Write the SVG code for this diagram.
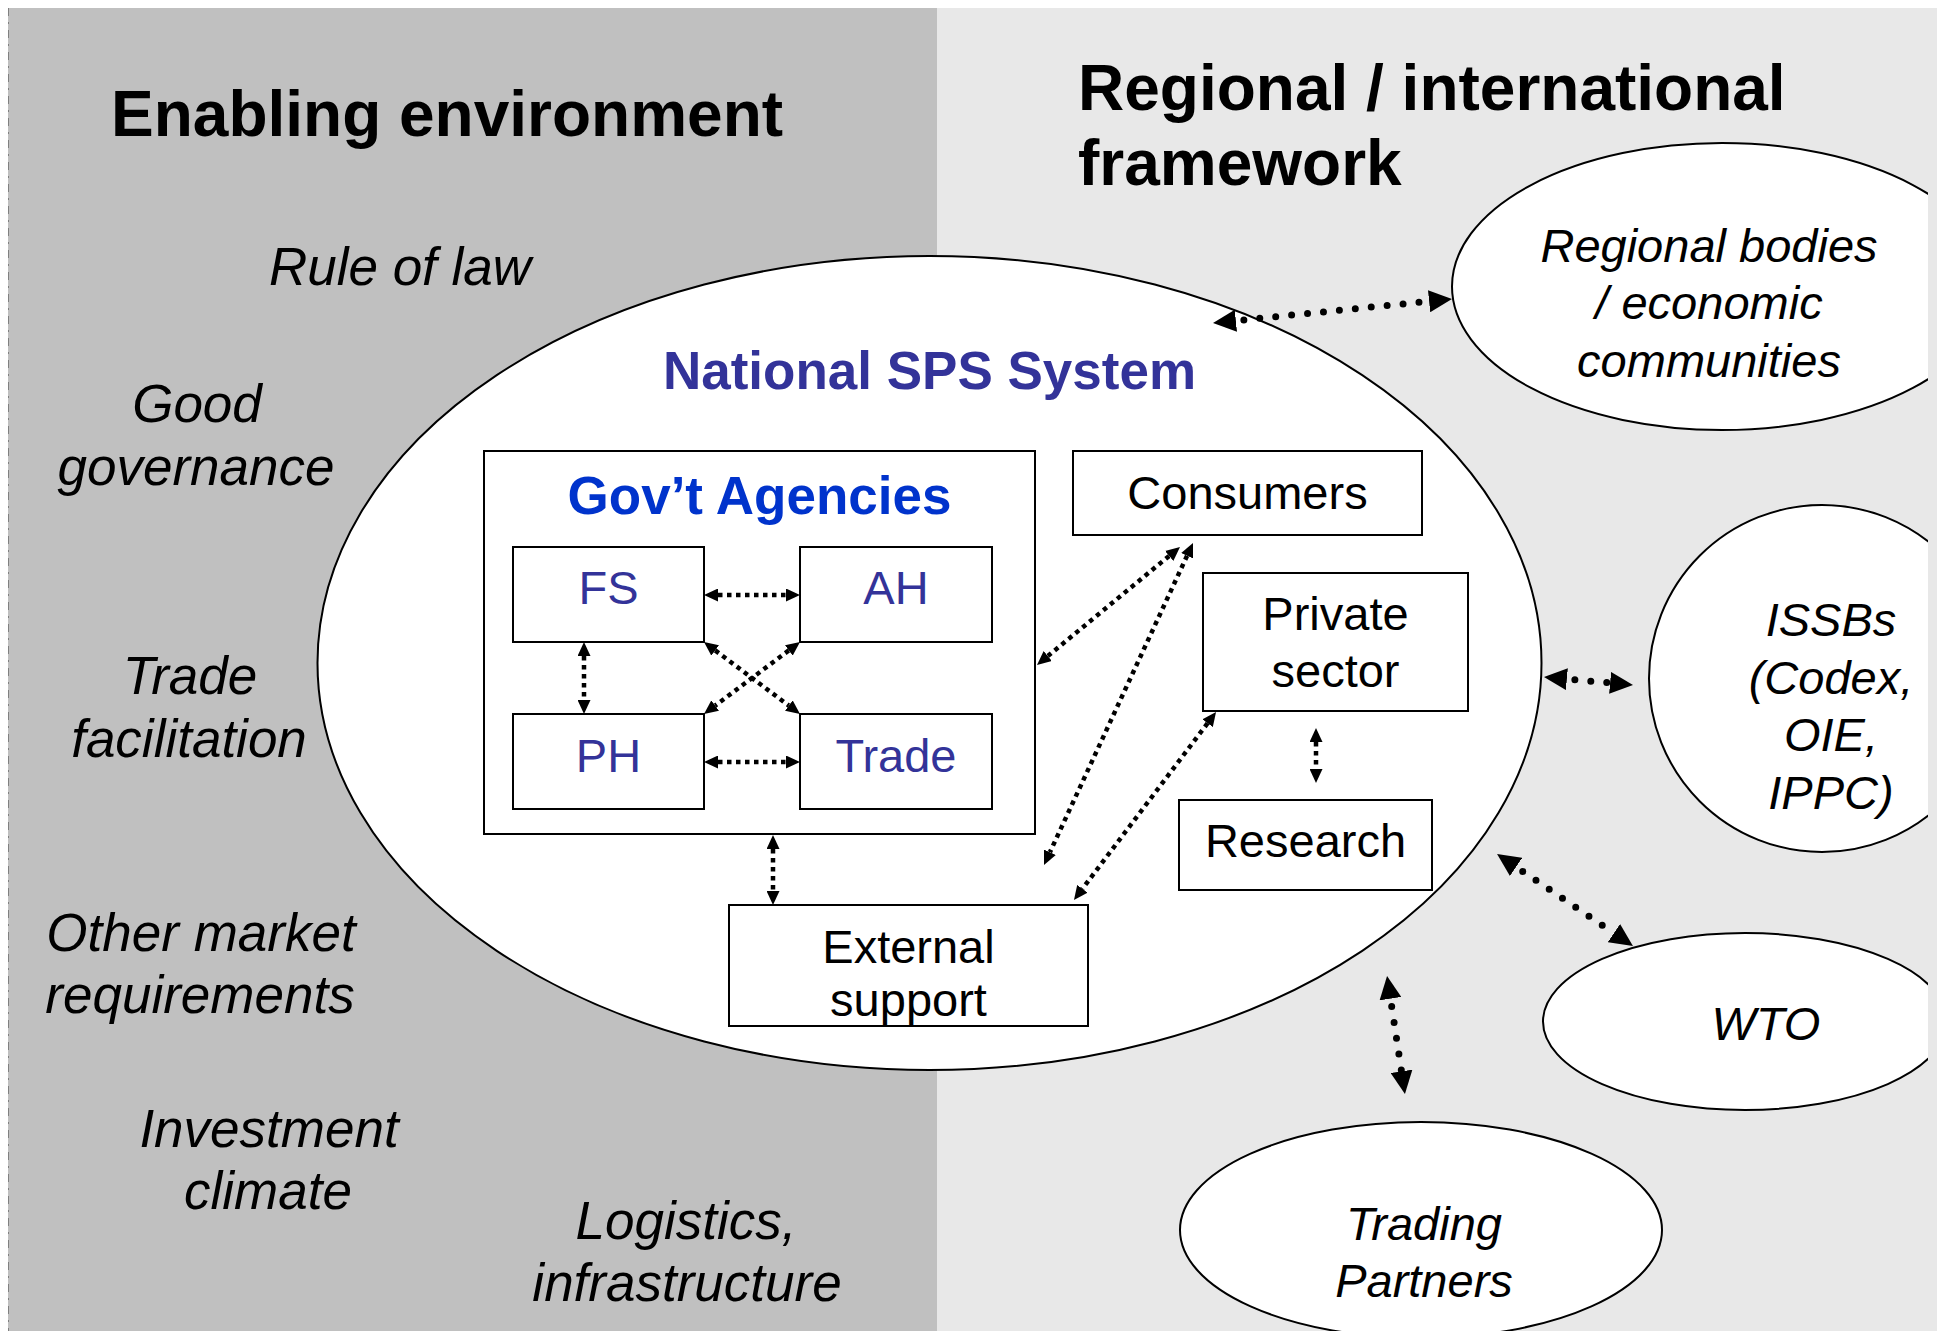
<svg xmlns="http://www.w3.org/2000/svg" width="1937" height="1331" viewBox="0 0 1937 1331">
<defs>
<style>
text{font-family:"Liberation Sans",Arial,Helvetica,sans-serif}
.title{font-size:64px;font-weight:bold;fill:#000}
.env{font-size:53px;font-style:italic;fill:#000;text-anchor:middle}
.ext{font-size:47px;font-style:italic;fill:#000;text-anchor:middle}
.lbl{font-size:47px;fill:#000;text-anchor:middle}
.ag{font-size:47px;fill:#333399;text-anchor:middle}
.hd{font-size:53px;font-weight:bold;text-anchor:middle}
.box{fill:#fff;stroke:#000;stroke-width:2}
.ell{fill:#fff;stroke:#000;stroke-width:2}
.ci{fill:none;stroke:#000;stroke-width:4.5;stroke-dasharray:4.5 4.5;marker-start:url(#ai);marker-end:url(#ai)}
.co{fill:none;stroke:#000;stroke-width:7;stroke-linecap:round;stroke-dasharray:0 16;stroke-dashoffset:8;marker-start:url(#ao);marker-end:url(#ao)}
</style>
<marker id="ai" markerUnits="userSpaceOnUse" markerWidth="14" markerHeight="13" refX="0" refY="6.5" orient="auto-start-reverse" viewBox="0 0 14 13"><path d="M0,0 L14,6.5 L0,13 z" fill="#000"/></marker>
<marker id="ao" markerUnits="userSpaceOnUse" markerWidth="23" markerHeight="22" refX="0" refY="11" orient="auto-start-reverse" viewBox="0 0 23 22"><path d="M0,0 L23,11 L0,22 z" fill="#000"/></marker>
<clipPath id="clipR"><rect x="0" y="0" width="1928" height="1331"/></clipPath>
</defs>

<rect x="0" y="0" width="1937" height="1331" fill="#fff"/>
<rect x="8" y="8" width="929" height="1323" fill="#c0c0c0"/>
<rect x="937" y="8" width="1000" height="1323" fill="#e8e8e8"/>
<line x1="8.5" y1="8" x2="8.5" y2="1331" stroke="#808080" stroke-width="1" stroke-dasharray="8 6 2 6"/>

<g id="enabling-environment">
<text class="title" x="111" y="136">Enabling environment</text>
<text class="env" x="400" y="285">Rule of law</text>
<text class="env" x="197" y="422">Good</text>
<text class="env" x="196" y="485">governance</text>
<text class="env" x="190" y="694">Trade</text>
<text class="env" x="189" y="757">facilitation</text>
<text class="env" x="201" y="951">Other market</text>
<text class="env" x="200" y="1013">requirements</text>
<text class="env" x="269" y="1147">Investment</text>
<text class="env" x="268" y="1209">climate</text>
<text class="env" x="686" y="1239">Logistics,</text>
<text class="env" x="687" y="1301">infrastructure</text>
</g>

<g id="regional-international-framework">
<text class="title" x="1078" y="110">Regional / international</text>
<text class="title" x="1078" y="185">framework</text>
</g>

<g id="regional-bodies" clip-path="url(#clipR)">
<ellipse class="ell" cx="1722" cy="286.5" rx="270" ry="143.5"/>
<text class="ext" x="1709" y="262">Regional bodies</text>
<text class="ext" x="1709" y="319">/ economic</text>
<text class="ext" x="1709" y="377">communities</text>
</g>

<g id="issbs" clip-path="url(#clipR)">
<ellipse class="ell" cx="1822" cy="678.5" rx="173" ry="173.5"/>
<text class="ext" x="1831" y="636">ISSBs</text>
<text class="ext" x="1831" y="694">(Codex,</text>
<text class="ext" x="1831" y="751">OIE,</text>
<text class="ext" x="1831" y="809">IPPC)</text>
</g>

<g id="wto" clip-path="url(#clipR)">
<ellipse class="ell" cx="1745" cy="1021.5" rx="202" ry="88.5"/>
<text class="ext" x="1766" y="1040">WTO</text>
</g>

<g id="trading-partners">
<ellipse class="ell" cx="1421" cy="1230" rx="241" ry="108"/>
<text class="ext" x="1424" y="1240">Trading</text>
<text class="ext" x="1424" y="1297">Partners</text>
</g>

<g id="national-sps-system">
<ellipse class="ell" cx="929.5" cy="663" rx="612" ry="407"/>
<text class="hd" x="929.5" y="389" fill="#333399">National SPS System</text>
</g>

<g id="govt-agencies">
<rect class="box" x="484" y="451" width="551" height="383"/>
<text class="hd" x="759.5" y="514" fill="#0033cc">Gov’t Agencies</text>
</g>

<g id="fs">
<rect class="box" x="513" y="547" width="191" height="95"/>
<text class="ag" x="608.5" y="604">FS</text>
</g>
<g id="ah">
<rect class="box" x="800" y="547" width="192" height="95"/>
<text class="ag" x="896" y="604">AH</text>
</g>
<g id="ph">
<rect class="box" x="513" y="714" width="191" height="95"/>
<text class="ag" x="608.5" y="772">PH</text>
</g>
<g id="trade">
<rect class="box" x="800" y="714" width="192" height="95"/>
<text class="ag" x="896" y="772">Trade</text>
</g>

<g id="consumers">
<rect class="box" x="1073" y="451" width="349" height="84"/>
<text class="lbl" x="1247.5" y="509">Consumers</text>
</g>

<g id="private-sector">
<rect class="box" x="1203" y="573" width="265" height="138"/>
<text class="lbl" x="1335.5" y="630">Private</text>
<text class="lbl" x="1335.5" y="687">sector</text>
</g>

<g id="research">
<rect class="box" x="1179" y="800" width="253" height="90"/>
<text class="lbl" x="1305.5" y="857">Research</text>
</g>

<g id="external-support">
<rect class="box" x="729" y="905" width="359" height="121"/>
<text class="lbl" x="908.5" y="963">External</text>
<text class="lbl" x="908.5" y="1016">support</text>
</g>

<g id="connectors">
<line class="ci" x1="718" y1="595" x2="786" y2="595"/>
<line class="ci" x1="718" y1="762" x2="786" y2="762"/>
<line class="ci" x1="584" y1="656" x2="584" y2="700"/>
<line class="ci" x1="715.2" y1="650.4" x2="788.8" y2="705.6"/>
<line class="ci" x1="788.8" y1="650.4" x2="715.2" y2="705.6"/>
<line class="ci" x1="773" y1="849" x2="773" y2="891"/>
<line class="ci" x1="1169.2" y1="555.9" x2="1047.8" y2="656.1"/>
<line class="ci" x1="1187.1" y1="555.7" x2="1049.9" y2="852.3"/>
<line class="ci" x1="1207.6" y1="723.2" x2="1082.4" y2="888.8"/>
<line class="ci" x1="1316" y1="742" x2="1316" y2="769"/>
<line class="co" x1="1235.9" y1="320.7" x2="1429.1" y2="301.3"/>
<line class="co" x1="1566.9" y1="679.1" x2="1610.1" y2="682.9"/>
<line class="co" x1="1516.1" y1="866.9" x2="1613.9" y2="933.1"/>
<line class="co" x1="1390.5" y1="998.7" x2="1401.5" y2="1071.3"/>
</g>
</svg>
